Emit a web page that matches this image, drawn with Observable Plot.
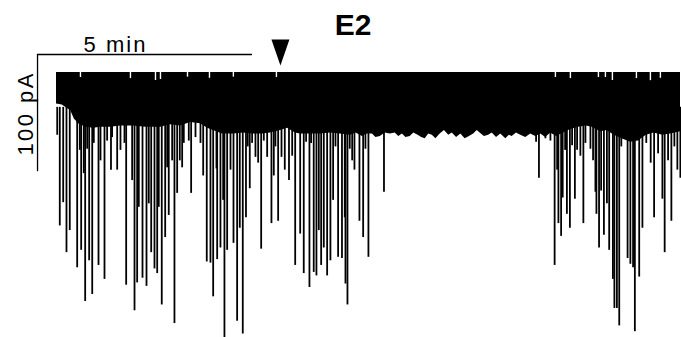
<!DOCTYPE html>
<html><head><meta charset="utf-8">
<script src="https://cdn.jsdelivr.net/npm/d3@7"></script>
<script src="https://cdn.jsdelivr.net/npm/@observablehq/plot@0.6"></script>
<style>body{margin:0;background:#fff}</style>
</head><body><div id="chart"></div>
<script>
// Recording trace E2: time in seconds, current in pA (0 = upper edge of trace)
const title = "E2";
const timeLabel = "5 min";
const currentLabel = "100 pA";
const scaleBarTime = 300;      // s
const scaleBarCurrent = 100;   // pA
const drugTime = [314];        // arrowhead (application)

// lower envelope of the dense noise band
const bandTime = [0, 8, 20, 25, 31, 41, 52, 62, 76, 90, 108, 125, 146, 160, 174, 188, 202, 212, 220, 233, 248, 262, 276, 289, 300, 314, 324, 335, 342, 356, 370, 384, 398, 412, 420, 429, 436, 443, 448, 454, 461, 468, 475, 480, 485, 490, 496, 501, 507, 512, 517, 522, 527, 532, 538, 544, 550, 555, 561, 567, 573, 579, 585, 590, 594, 600, 606, 611, 617, 623, 630, 635, 639, 645, 651, 658, 665, 672, 679, 686, 693, 701, 711, 721, 732, 743, 751, 763, 772, 782, 793, 805, 816, 827, 838, 850, 861, 875];
const bandLow = [-27, -28, -33, -40, -44, -47, -48, -47, -47, -46, -46, -47, -47, -45, -46, -43, -44, -48, -50, -53, -53, -52, -53, -53, -52, -50, -48, -52, -53, -53, -53, -52, -53, -54, -52, -55, -53, -53, -56, -55, -52, -53, -52, -55, -53, -56, -55, -52, -54, -56, -57, -53, -54, -57, -53, -50, -54, -52, -56, -53, -57, -55, -53, -50, -52, -55, -54, -52, -56, -53, -57, -54, -55, -52, -54, -56, -53, -55, -53, -56, -52, -55, -52, -49, -47, -46, -47, -51, -50, -54, -57, -60, -59, -54, -52, -54, -53, -51];

// small upward gaps at the top edge of the band
const notchTime = [33.6, 103.7, 138.8, 145.8, 183.7, 214.5, 248, 308.4, 699.6, 720.6, 759.9, 769.7, 779.5, 813.2, 832.8, 846.8];
const notchDepth = [-4.3, -5.2, -6.9, -6, -4, -5, -4, -4.3, -4.3, -5.2, -4.3, -4.3, -6.9, -5.2, -7, -5];

// individual inward current events (peak amplitude, pA)
const spikeTime = [1, 4.6, 9.4, 14, 18.6, 29, 32.7, 34.6, 38.3, 40.2, 43, 45.8, 50.1, 52.3, 58.9, 61.7, 67.3, 71, 76.4, 78, 85.1, 89.7, 95.3, 97.7, 106.1, 109.4, 113.1, 115.4, 120.6, 126.2, 129.4, 132.8, 137.4, 141.2, 143.4, 147.6, 152.4, 155.2, 157.4, 162.2, 165.4, 169.2, 172.9, 176.2, 178.5, 185.5, 188.8, 194.9, 201.9, 205.7, 210.7, 215.9, 219.7, 224.3, 225.3, 229.9, 233.7, 235.5, 239.3, 244, 248.2, 253.3, 257, 261.2, 265.7, 268.2, 271, 274.3, 279, 282.8, 287, 290.7, 295.4, 301.4, 304.7, 307, 310.8, 315.5, 320.1, 326, 330.5, 334.7, 341.7, 346.7, 350, 354.7, 357, 360.7, 364.5, 367.8, 371.1, 374.8, 379.5, 384.1, 387.9, 391.2, 394.9, 400.3, 404.2, 405.2, 408, 411.2, 414.6, 417.8, 424.8, 430, 433.2, 437.4, 459.2, 672.5, 676.5, 685.6, 692.6, 698.5, 702, 703.8, 707.6, 709.8, 713.2, 715.7, 719.9, 723, 726.9, 730, 734.6, 738.8, 741.7, 748.7, 752.4, 755.7, 757.1, 760.8, 763.7, 767.6, 771.8, 775, 780.2, 782.3, 785.8, 789.1, 792, 800.8, 804.7, 808.5, 811, 817.1, 821.6, 827, 833.2, 838, 843.6, 849.6, 852.8, 857.6, 862.2, 866.4, 870.6, 874.8];
const spikeAmp = [-54, -132, -112, -155, -136, -168, -67, -153, -87, -197, -66, -162, -191, -61, -166, -76, -178, -59, -84, -56, -84, -67, -61, -183, -93, -205, -181, -116, -177, -184, -113, -155, -169, -173, -116, -200, -142, -82, -123, -76, -216, -104, -76, -82, -61, -59, -104, -56, -61, -89, -163, -164, -193, -83, -161, -151, -110, -228, -153, -84, -147, -214, -134, -225, -125, -64, -100, -61, -73, -78, -152, -59, -73, -130, -89, -64, -128, -73, -84, -93, -72, -166, -139, -173, -60, -185, -61, -172, -175, -136, -166, -151, -175, -162, -110, -64, -159, -160, -125, -182, -200, -66, -76, -84, -128, -142, -66, -159, -103, -60, -91, -57, -59, -166, -84, -130, -141, -108, -67, -122, -134, -63, -109, -67, -72, -130, -61, -66, -76, -103, -122, -151, -102, -140, -113, -153, -178, -203, -203, -218, -64, -160, -165, -168, -223, -176, -134, -61, -78, -125, -70, -109, -155, -76, -128, -64, -84, -91];

const band = bandTime.map((t, i) => ({t, low: bandLow[i]}));
const spikes = spikeTime.map((t, i) => ({t, amp: spikeAmp[i]}));
const notches = notchTime.map((t, i) => ({t, d: notchDepth[i]}));

// scale bar corner (s, pA)
const barT0 = -26.6, barI0 = 15.5;
const hBar = [{t: barT0, i: barI0}, {t: barT0 + scaleBarTime, i: barI0}];
const vBar = [{t: barT0, i: barI0}, {t: barT0, i: barI0 - scaleBarCurrent}];

const downTri = {draw(ctx, size) {
  const s = Math.sqrt(size / Math.PI);
  ctx.moveTo(-s, -s * 1.45); ctx.lineTo(s, -s * 1.45); ctx.lineTo(0, s * 1.45); ctx.closePath();
}};

const chart = Plot.plot({
  width: 681, height: 337,
  marginLeft: 56, marginRight: 1, marginTop: 72, marginBottom: 0,
  x: {domain: [0, 875], axis: null},
  y: {domain: [-228, 0], axis: null},
  style: {fontFamily: "'Liberation Sans', Arial, sans-serif", background: "#fff", color: "#000"},
  marks: [
    Plot.ruleX(spikes, {x: "t", y1: -30, y2: "amp", stroke: "black", strokeWidth: 1.8}),
    Plot.areaY(band, {x: "t", y1: 0, y2: "low", fill: "black"}),
    Plot.ruleX(notches, {x: "t", y1: 1, y2: "d", stroke: "white", strokeWidth: 1.4}),
    Plot.line(hBar, {x: "t", y: "i", stroke: "black", strokeWidth: 1.3}),
    Plot.line(vBar, {x: "t", y: "i", stroke: "black", strokeWidth: 1.3}),
    Plot.text([timeLabel], {x: barT0 + scaleBarTime * 0.36, y: 17.5, text: d => d, fontSize: 22, lineAnchor: "bottom", textAnchor: "middle"}),
    Plot.text([currentLabel], {x: -42.8, y: -36.2, text: d => d, fontSize: 22, rotate: -90, lineAnchor: "middle", textAnchor: "middle"}),
    Plot.dot(drugTime, {x: d => d, y: 17.2, r: 9, symbol: downTri, fill: "black"}),
    Plot.text([title], {x: 416, y: 31.9, text: d => d, fontSize: 30, fontWeight: "bold", lineAnchor: "bottom", textAnchor: "middle"})
  ]
});
const fit = {[timeLabel]: 62, [currentLabel]: 82};
chart.querySelectorAll("text").forEach(el => {
  const key = el.textContent.trim();
  if (fit[key]) { el.setAttribute("textLength", fit[key]); el.setAttribute("lengthAdjust", "spacing"); }
});
document.getElementById("chart").append(chart);
</script></body></html>
